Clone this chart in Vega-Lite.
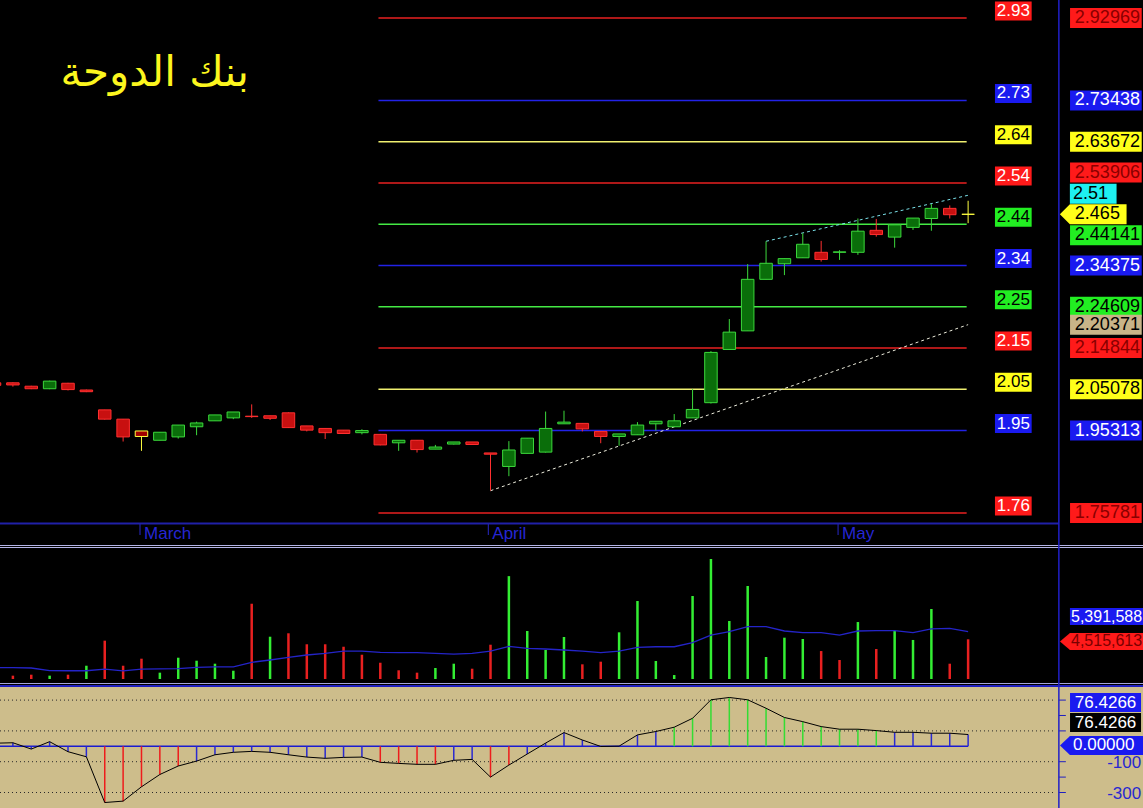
{
"$schema": "https://vega.github.io/schema/vega-lite/v6.json",
"background": "#000000",
"padding": 0,
"spacing": 0,
"bounds": "flush",
"config": {"view": {"stroke": null}, "concat": {"spacing": 0}, "font": "Liberation Sans", "scale": {"continuousPadding": 0}},
"datasets": {
"candles": [
{"i":-1,"o":2.066,"h":2.067,"l":2.059,"c":2.060,"d":"down"},
{"i":0,"o":2.066,"h":2.067,"l":2.057,"c":2.061,"d":"down"},
{"i":1,"o":2.058,"h":2.059,"l":2.051,"c":2.052,"d":"down"},
{"i":2,"o":2.052,"h":2.071,"l":2.051,"c":2.070,"d":"up"},
{"i":3,"o":2.065,"h":2.066,"l":2.048,"c":2.050,"d":"down"},
{"i":4,"o":2.049,"h":2.050,"l":2.044,"c":2.045,"d":"down"},
{"i":5,"o":2.002,"h":2.002,"l":1.979,"c":1.980,"d":"down"},
{"i":6,"o":1.980,"h":1.980,"l":1.927,"c":1.938,"d":"down"},
{"i":7,"o":1.952,"h":1.952,"l":1.905,"c":1.939,"d":"hl"},
{"i":8,"o":1.930,"h":1.949,"l":1.930,"c":1.949,"d":"up"},
{"i":9,"o":1.938,"h":1.966,"l":1.934,"c":1.966,"d":"up"},
{"i":10,"o":1.962,"h":1.974,"l":1.942,"c":1.971,"d":"up"},
{"i":11,"o":1.976,"h":1.990,"l":1.976,"c":1.990,"d":"up"},
{"i":12,"o":1.983,"h":1.997,"l":1.980,"c":1.997,"d":"up"},
{"i":13,"o":1.987,"h":2.015,"l":1.983,"c":1.986,"d":"down"},
{"i":14,"o":1.988,"h":1.988,"l":1.978,"c":1.982,"d":"down"},
{"i":15,"o":1.995,"h":1.996,"l":1.959,"c":1.960,"d":"down"},
{"i":16,"o":1.964,"h":1.964,"l":1.951,"c":1.954,"d":"down"},
{"i":17,"o":1.958,"h":1.958,"l":1.933,"c":1.948,"d":"down"},
{"i":18,"o":1.954,"h":1.954,"l":1.945,"c":1.946,"d":"down"},
{"i":19,"o":1.948,"h":1.956,"l":1.944,"c":1.953,"d":"up"},
{"i":20,"o":1.944,"h":1.945,"l":1.918,"c":1.919,"d":"down"},
{"i":21,"o":1.924,"h":1.930,"l":1.905,"c":1.930,"d":"up"},
{"i":22,"o":1.930,"h":1.930,"l":1.901,"c":1.908,"d":"down"},
{"i":23,"o":1.909,"h":1.919,"l":1.909,"c":1.914,"d":"up"},
{"i":24,"o":1.921,"h":1.926,"l":1.920,"c":1.926,"d":"up"},
{"i":25,"o":1.926,"h":1.926,"l":1.919,"c":1.920,"d":"down"},
{"i":26,"o":1.900,"h":1.900,"l":1.811,"c":1.897,"d":"down"},
{"i":27,"o":1.868,"h":1.928,"l":1.845,"c":1.907,"d":"up"},
{"i":28,"o":1.899,"h":1.935,"l":1.899,"c":1.935,"d":"up"},
{"i":29,"o":1.902,"h":1.998,"l":1.901,"c":1.958,"d":"up"},
{"i":30,"o":1.969,"h":2.000,"l":1.969,"c":1.973,"d":"up"},
{"i":31,"o":1.970,"h":1.970,"l":1.951,"c":1.957,"d":"down"},
{"i":32,"o":1.951,"h":1.951,"l":1.923,"c":1.939,"d":"down"},
{"i":33,"o":1.939,"h":1.945,"l":1.917,"c":1.945,"d":"up"},
{"i":34,"o":1.943,"h":1.973,"l":1.943,"c":1.966,"d":"up"},
{"i":35,"o":1.969,"h":1.975,"l":1.953,"c":1.975,"d":"up"},
{"i":36,"o":1.962,"h":1.992,"l":1.962,"c":1.976,"d":"up"},
{"i":37,"o":1.983,"h":2.051,"l":1.983,"c":2.003,"d":"up"},
{"i":38,"o":2.019,"h":2.141,"l":2.017,"c":2.138,"d":"up"},
{"i":39,"o":2.145,"h":2.217,"l":2.145,"c":2.186,"d":"up"},
{"i":40,"o":2.189,"h":2.347,"l":2.189,"c":2.311,"d":"up"},
{"i":41,"o":2.311,"h":2.401,"l":2.311,"c":2.349,"d":"up"},
{"i":42,"o":2.348,"h":2.360,"l":2.321,"c":2.360,"d":"up"},
{"i":43,"o":2.362,"h":2.420,"l":2.362,"c":2.394,"d":"up"},
{"i":44,"o":2.375,"h":2.402,"l":2.353,"c":2.358,"d":"down"},
{"i":45,"o":2.375,"h":2.380,"l":2.357,"c":2.376,"d":"up"},
{"i":46,"o":2.375,"h":2.455,"l":2.369,"c":2.425,"d":"up"},
{"i":47,"o":2.427,"h":2.454,"l":2.412,"c":2.417,"d":"down"},
{"i":48,"o":2.411,"h":2.440,"l":2.386,"c":2.440,"d":"up"},
{"i":49,"o":2.434,"h":2.456,"l":2.428,"c":2.456,"d":"up"},
{"i":50,"o":2.455,"h":2.489,"l":2.426,"c":2.479,"d":"up"},
{"i":51,"o":2.479,"h":2.486,"l":2.455,"c":2.464,"d":"down"},
{"i":52,"o":2.465,"h":2.497,"l":2.444,"c":2.465,"d":"doji"}
],
"fib": [
{"v":2.92969,"t":"2.93"},{"v":2.73438,"t":"2.73"},{"v":2.63672,"t":"2.64"},{"v":2.53906,"t":"2.54"},
{"v":2.44141,"t":"2.44"},{"v":2.34375,"t":"2.34"},{"v":2.24609,"t":"2.25"},{"v":2.14844,"t":"2.15"},
{"v":2.05078,"t":"2.05"},{"v":1.95313,"t":"1.95"},{"v":1.75781,"t":"1.76"}
],
"trend": [
{"id":"a","i":26,"v":1.8106},{"id":"a","i":52,"v":2.20371},
{"id":"b","i":41,"v":2.4011},{"id":"b","i":52,"v":2.51}
],
"months": [{"i":6.92,"m":"March"},{"i":25.88,"m":"April"},{"i":44.92,"m":"May"}],
"rlab": [
{"t":"2.92969","v":2.92969},{"t":"2.73438","v":2.73438},{"t":"2.63672","v":2.63672},{"t":"2.53906","v":2.53906},
{"t":"2.51","v":2.51},{"t":"2.465","v":2.465},{"t":"2.44141","v":2.44141},{"t":"2.34375","v":2.34375},
{"t":"2.24609","v":2.24609},{"t":"2.20371","v":2.20371},{"t":"2.14844","v":2.14844},{"t":"2.05078","v":2.05078},
{"t":"1.95313","v":1.95313},{"t":"1.75781","v":1.75781}
],
"vol": [
{"i":-1,"ma":1300000},
{"i":0,"v":380000,"d":"down","ma":1290000},
{"i":1,"v":490000,"d":"down","ma":1250000},
{"i":2,"v":380000,"d":"up","ma":960000},
{"i":3,"v":490000,"d":"down","ma":940000},
{"i":4,"v":1510000,"d":"up","ma":940000},
{"i":5,"v":4360000,"d":"down","ma":1120000},
{"i":6,"v":1510000,"d":"down","ma":920000},
{"i":7,"v":2310000,"d":"down","ma":1120000},
{"i":8,"v":720000,"d":"up","ma":1150000},
{"i":9,"v":2420000,"d":"up","ma":1170000},
{"i":10,"v":2080000,"d":"up","ma":1330000},
{"i":11,"v":1740000,"d":"up","ma":1370000},
{"i":12,"v":940000,"d":"up","ma":1370000},
{"i":13,"v":8560000,"d":"down","ma":1900000},
{"i":14,"v":4810000,"d":"up","ma":2160000},
{"i":15,"v":5200000,"d":"down","ma":2450000},
{"i":16,"v":3950000,"d":"down","ma":2730000},
{"i":17,"v":3950000,"d":"down","ma":2920000},
{"i":18,"v":3670000,"d":"down","ma":3180000},
{"i":19,"v":2760000,"d":"down","ma":3180000},
{"i":20,"v":1850000,"d":"down","ma":3020000},
{"i":21,"v":990000,"d":"down","ma":3000000},
{"i":22,"v":720000,"d":"down","ma":3000000},
{"i":23,"v":1250000,"d":"up","ma":2920000},
{"i":24,"v":1740000,"d":"up","ma":2840000},
{"i":25,"v":1170000,"d":"down","ma":2920000},
{"i":26,"v":3900000,"d":"down","ma":3180000},
{"i":27,"v":11700000,"d":"up","ma":3720000},
{"i":28,"v":5460000,"d":"up","ma":3490000},
{"i":29,"v":3300000,"d":"up","ma":3410000},
{"i":30,"v":4780000,"d":"up","ma":3300000},
{"i":31,"v":1670000,"d":"down","ma":3180000},
{"i":32,"v":1970000,"d":"down","ma":3000000},
{"i":33,"v":5310000,"d":"up","ma":3180000},
{"i":34,"v":8870000,"d":"up","ma":3600000},
{"i":35,"v":2050000,"d":"up","ma":3670000},
{"i":36,"v":450000,"d":"up","ma":3670000},
{"i":37,"v":9440000,"d":"up","ma":4130000},
{"i":38,"v":13650000,"d":"up","ma":5000000},
{"i":39,"v":6600000,"d":"up","ma":5380000},
{"i":40,"v":10580000,"d":"up","ma":5950000},
{"i":41,"v":2500000,"d":"up","ma":5950000},
{"i":42,"v":4700000,"d":"up","ma":5460000},
{"i":43,"v":4550000,"d":"up","ma":5270000},
{"i":44,"v":3180000,"d":"down","ma":5270000},
{"i":45,"v":2160000,"d":"down","ma":5000000},
{"i":46,"v":6480000,"d":"up","ma":5460000},
{"i":47,"v":3410000,"d":"down","ma":5500000},
{"i":48,"v":5460000,"d":"up","ma":5500000},
{"i":49,"v":4440000,"d":"up","ma":5270000},
{"i":50,"v":7960000,"d":"up","ma":5690000},
{"i":51,"v":1740000,"d":"down","ma":5760000},
{"i":52,"v":4515613,"d":"down","ma":5391588}
],
"vlab": [{"t":"5,391,588","v":5391588},{"t":"4,515,613","v":4515613}],
"osc": [
{"i":-1,"v":20},{"i":0,"v":23},{"i":1,"v":-18},{"i":2,"v":30},{"i":3,"v":-35},{"i":4,"v":-68},
{"i":5,"v":-365},{"i":6,"v":-356},{"i":7,"v":-263},{"i":8,"v":-183},{"i":9,"v":-128},{"i":10,"v":-96},
{"i":11,"v":-55},{"i":12,"v":-39},{"i":13,"v":-33},{"i":14,"v":-39},{"i":15,"v":-55},{"i":16,"v":-70},
{"i":17,"v":-78},{"i":18,"v":-72},{"i":19,"v":-70},{"i":20,"v":-104},{"i":21,"v":-111},{"i":22,"v":-117},
{"i":23,"v":-117},{"i":24,"v":-91},{"i":25,"v":-85},{"i":26,"v":-200},{"i":27,"v":-122},{"i":28,"v":-50},
{"i":29,"v":21},{"i":30,"v":89},{"i":31,"v":41},{"i":32,"v":-1},{"i":33,"v":1},{"i":34,"v":74},
{"i":35,"v":96},{"i":36,"v":124},{"i":37,"v":182},{"i":38,"v":302},{"i":39,"v":317},{"i":40,"v":302},
{"i":41,"v":247},{"i":42,"v":187},{"i":43,"v":160},{"i":44,"v":128},{"i":45,"v":111},{"i":46,"v":111},
{"i":47,"v":102},{"i":48,"v":91},{"i":49,"v":91},{"i":50,"v":85},{"i":51,"v":85},{"i":52,"v":76.4266}
],
"olab": [{"t":"76.4266","v":76.4266},{"t":"0.00000","v":0}],
"ogrid": [{"g":300,"t":"300"},{"g":100,"t":"100"},{"g":-100,"t":"-100"},{"g":-300,"t":"-300"}],
"oticks": [{"g":300},{"g":200},{"g":100},{"g":-100},{"g":-200},{"g":-300}]
},
"vconcat": [
{
"width": 1143, "height": 545,
"resolve": {"scale": {"color": "independent", "fill": "independent", "stroke": "independent"}},
"layer": [
{"data": {"name": "fib"}, "mark": {"type": "rule", "strokeWidth": 1.5},
 "encoding": {
  "x": {"datum": 19.9, "type": "quantitative", "scale": {"domain": [-0.702, 61.52], "nice": false, "zero": false}, "axis": null},
  "x2": {"datum": 51.92},
  "y": {"field": "v", "type": "quantitative", "scale": {"domain": [1.68207, 2.972303], "nice": false, "zero": false}, "axis": null},
  "color": {"field": "t", "type": "nominal", "legend": null, "scale": {"domain": ["2.93","2.73","2.64","2.54","2.44","2.34","2.25","2.15","2.05","1.95","1.76"], "range": ["#e82020","#2222e6","#f0f070","#e82020","#44ea44","#2222e6","#44ea44","#e82020","#f0f070","#2222e6","#e82020"]}}}},
{"data": {"name": "trend"}, "mark": {"type": "line", "strokeWidth": 1, "strokeDash": [3, 3]},
 "encoding": {
  "x": {"field": "i", "type": "quantitative", "scale": {"domain": [-0.702, 61.52], "nice": false, "zero": false}, "axis": null},
  "y": {"field": "v", "type": "quantitative", "scale": {"domain": [1.68207, 2.972303], "nice": false, "zero": false}, "axis": null},
  "detail": {"field": "id"},
  "color": {"field": "id", "type": "nominal", "legend": null, "scale": {"domain": ["a","b"], "range": ["#ececdc","#7ae0e8"]}}}},
{"data": {"name": "candles"}, "mark": {"type": "rule", "strokeWidth": 1, "clip": true},
 "encoding": {
  "x": {"field": "i", "type": "quantitative", "scale": {"domain": [-0.702, 61.52], "nice": false, "zero": false}, "axis": null},
  "y": {"field": "l", "type": "quantitative", "scale": {"domain": [1.68207, 2.972303], "nice": false, "zero": false}, "axis": null},
  "y2": {"field": "h"},
  "color": {"field": "d", "type": "nominal", "legend": null, "scale": {"domain": ["up","down","hl","doji"], "range": ["#3cd83c","#ff3030","#ffff40","#ffff40"]}}}},
{"data": {"name": "candles"}, "mark": {"type": "bar", "size": 12.5, "strokeWidth": 1, "clip": true},
 "encoding": {
  "x": {"field": "i", "type": "quantitative", "scale": {"domain": [-0.702, 61.52], "nice": false, "zero": false}, "axis": null},
  "y": {"field": "o", "type": "quantitative", "scale": {"domain": [1.68207, 2.972303], "nice": false, "zero": false}, "axis": null},
  "y2": {"field": "c"},
  "fill": {"field": "d", "type": "nominal", "legend": null, "scale": {"domain": ["up","down","hl","doji"], "range": ["#0a6e0a","#c81010","#a00000","#ffff40"]}},
  "stroke": {"field": "d", "type": "nominal", "legend": null, "scale": {"domain": ["up","down","hl","doji"], "range": ["#3cd83c","#ff3030","#ffff40","#ffff40"]}}}},
{"data": {"name": "months"}, "mark": {"type": "rule", "color": "#2828c8", "strokeWidth": 1},
 "encoding": {
  "x": {"field": "i", "type": "quantitative", "scale": {"domain": [-0.702, 61.52], "nice": false, "zero": false}, "axis": null},
  "y": {"datum": 1.73178, "type": "quantitative", "scale": {"domain": [1.68207, 2.972303], "nice": false, "zero": false}, "axis": null},
  "y2": {"datum": 1.70574}}},
{"data": {"name": "months"}, "mark": {"type": "text", "font": "Liberation Sans", "fontSize": 17, "align": "left", "baseline": "middle", "dx": 4, "color": "#2626d4"},
 "encoding": {
  "x": {"field": "i", "type": "quantitative", "scale": {"domain": [-0.702, 61.52], "nice": false, "zero": false}, "axis": null},
  "y": {"datum": 1.7081, "type": "quantitative", "scale": {"domain": [1.68207, 2.972303], "nice": false, "zero": false}, "axis": null},
  "text": {"field": "m"}}},
{"data": {"name": "fib"}, "mark": {"type": "point", "shape": "M-1,-0.899H1V0.136H-1Z", "size": 1347, "filled": true, "opacity": 1, "strokeWidth": 0},
 "encoding": {
  "x": {"datum": 54.46, "type": "quantitative", "scale": {"domain": [-0.702, 61.52], "nice": false, "zero": false}, "axis": null},
  "y": {"field": "v", "type": "quantitative", "scale": {"domain": [1.68207, 2.972303], "nice": false, "zero": false}, "axis": null},
  "color": {"field": "t", "type": "nominal", "legend": null, "scale": {"domain": ["2.93","2.73","2.64","2.54","2.44","2.34","2.25","2.15","2.05","1.95","1.76"], "range": ["#ff1a1a","#1a1af0","#ffff1a","#ff1a1a","#22ee22","#1a1af0","#22ee22","#ff1a1a","#ffff1a","#1a1af0","#ff1a1a"]}}}},
{"data": {"name": "fib"}, "mark": {"type": "text", "font": "Liberation Sans", "fontSize": 17, "align": "center", "baseline": "middle", "dy": -7},
 "encoding": {
  "x": {"datum": 54.46, "type": "quantitative", "scale": {"domain": [-0.702, 61.52], "nice": false, "zero": false}, "axis": null},
  "y": {"field": "v", "type": "quantitative", "scale": {"domain": [1.68207, 2.972303], "nice": false, "zero": false}, "axis": null},
  "text": {"field": "t"},
  "color": {"field": "t", "type": "nominal", "legend": null, "scale": {"domain": ["2.93","2.73","2.64","2.54","2.44","2.34","2.25","2.15","2.05","1.95","1.76"], "range": ["#ffffff","#ffffff","#000000","#ffffff","#000000","#ffffff","#000000","#ffffff","#000000","#ffffff","#ffffff"]}}}},
{"data": {"name": "rlab"}, "transform": [{"filter": "indexof(['2.53906','2.51','2.465','2.44141'], datum.t) < 0"}],
 "mark": {"type": "point", "shape": "M-1,-0.279H1V0.279H-1Z", "size": 5140, "filled": true, "opacity": 1, "strokeWidth": 0, "clip": true},
 "encoding": {
  "x": {"datum": 59.5, "type": "quantitative", "scale": {"domain": [-0.702, 61.52], "nice": false, "zero": false}, "axis": null},
  "y": {"field": "v", "type": "quantitative", "scale": {"domain": [1.68207, 2.972303], "nice": false, "zero": false}, "axis": null},
  "color": {"field": "t", "type": "nominal", "legend": null, "scale": {"domain": ["2.92969","2.73438","2.63672","2.34375","2.24609","2.20371","2.14844","2.05078","1.95313","1.75781"], "range": ["#ff1a1a","#1a1af0","#ffff1a","#1a1af0","#22ee22","#c8b488","#ff1a1a","#ffff1a","#1a1af0","#ff1a1a"]}}}},
{"data": {"name": "rlab"}, "transform": [{"filter": "indexof(['2.53906','2.51','2.465','2.44141'], datum.t) < 0"}],
 "mark": {"type": "text", "font": "Liberation Sans", "fontSize": 18, "align": "left", "baseline": "middle", "clip": true},
 "encoding": {
  "x": {"datum": 57.81, "type": "quantitative", "scale": {"domain": [-0.702, 61.52], "nice": false, "zero": false}, "axis": null},
  "y": {"field": "v", "type": "quantitative", "scale": {"domain": [1.68207, 2.972303], "nice": false, "zero": false}, "axis": null},
  "text": {"field": "t"},
  "color": {"field": "t", "type": "nominal", "legend": null, "scale": {"domain": ["2.92969","2.73438","2.63672","2.34375","2.24609","2.20371","2.14844","2.05078","1.95313","1.75781"], "range": ["#8a0000","#ffffff","#000000","#ffffff","#000000","#000000","#8a0000","#000000","#ffffff","#8a0000"]}}}},
{"data": {"name": "rlab"}, "transform": [{"filter": "datum.t == '2.53906'"}],
 "mark": {"type": "point", "shape": "M-1,-0.572H1V-0.014H-1Z", "size": 5140, "filled": true, "opacity": 1, "strokeWidth": 0, "color": "#ff1a1a", "clip": true},
 "encoding": {
  "x": {"datum": 59.5, "type": "quantitative", "scale": {"domain": [-0.702, 61.52], "nice": false, "zero": false}, "axis": null},
  "y": {"field": "v", "type": "quantitative", "scale": {"domain": [1.68207, 2.972303], "nice": false, "zero": false}, "axis": null}}},
{"data": {"name": "rlab"}, "transform": [{"filter": "datum.t == '2.53906'"}],
 "mark": {"type": "text", "font": "Liberation Sans", "fontSize": 18, "align": "left", "baseline": "middle", "dy": -10.5, "color": "#8a0000", "clip": true},
 "encoding": {
  "x": {"datum": 57.81, "type": "quantitative", "scale": {"domain": [-0.702, 61.52], "nice": false, "zero": false}, "axis": null},
  "y": {"field": "v", "type": "quantitative", "scale": {"domain": [1.68207, 2.972303], "nice": false, "zero": false}, "axis": null},
  "text": {"field": "t"}}},
{"data": {"name": "rlab"}, "transform": [{"filter": "datum.t == '2.44141'"}],
 "mark": {"type": "point", "shape": "M-1,0.028H1V0.586H-1Z", "size": 5140, "filled": true, "opacity": 1, "strokeWidth": 0, "color": "#22ee22", "clip": true},
 "encoding": {
  "x": {"datum": 59.5, "type": "quantitative", "scale": {"domain": [-0.702, 61.52], "nice": false, "zero": false}, "axis": null},
  "y": {"field": "v", "type": "quantitative", "scale": {"domain": [1.68207, 2.972303], "nice": false, "zero": false}, "axis": null}}},
{"data": {"name": "rlab"}, "transform": [{"filter": "datum.t == '2.44141'"}],
 "mark": {"type": "text", "font": "Liberation Sans", "fontSize": 18, "align": "left", "baseline": "middle", "dy": 11, "color": "#000000", "clip": true},
 "encoding": {
  "x": {"datum": 57.81, "type": "quantitative", "scale": {"domain": [-0.702, 61.52], "nice": false, "zero": false}, "axis": null},
  "y": {"field": "v", "type": "quantitative", "scale": {"domain": [1.68207, 2.972303], "nice": false, "zero": false}, "axis": null},
  "text": {"field": "t"}}},
{"data": {"name": "rlab"}, "transform": [{"filter": "datum.t == '2.51'"}],
 "mark": {"type": "point", "shape": "M-1,-0.497H1V0.36H-1Z", "size": 2180, "filled": true, "opacity": 1, "strokeWidth": 0, "color": "#1ef0f0"},
 "encoding": {
  "x": {"datum": 58.81, "type": "quantitative", "scale": {"domain": [-0.702, 61.52], "nice": false, "zero": false}, "axis": null},
  "y": {"field": "v", "type": "quantitative", "scale": {"domain": [1.68207, 2.972303], "nice": false, "zero": false}, "axis": null}}},
{"data": {"name": "rlab"}, "transform": [{"filter": "datum.t == '2.51'"}],
 "mark": {"type": "text", "font": "Liberation Sans", "fontSize": 18, "align": "left", "baseline": "middle", "dy": -1.6, "color": "#000000"},
 "encoding": {
  "x": {"datum": 57.71, "type": "quantitative", "scale": {"domain": [-0.702, 61.52], "nice": false, "zero": false}, "axis": null},
  "y": {"field": "v", "type": "quantitative", "scale": {"domain": [1.68207, 2.972303], "nice": false, "zero": false}, "axis": null},
  "text": {"field": "t"}}},
{"data": {"name": "rlab"}, "transform": [{"filter": "datum.t == '2.465'"}],
 "mark": {"type": "point", "shape": "M-1,0L-0.7,-0.3H1V0.3H-0.7Z", "size": 4448, "filled": true, "opacity": 1, "strokeWidth": 0, "color": "#ffff1a"},
 "encoding": {
  "x": {"datum": 58.81, "type": "quantitative", "scale": {"domain": [-0.702, 61.52], "nice": false, "zero": false}, "axis": null},
  "y": {"field": "v", "type": "quantitative", "scale": {"domain": [1.68207, 2.972303], "nice": false, "zero": false}, "axis": null}}},
{"data": {"name": "rlab"}, "transform": [{"filter": "datum.t == '2.465'"}],
 "mark": {"type": "text", "font": "Liberation Sans", "fontSize": 18, "align": "left", "baseline": "middle", "color": "#000000"},
 "encoding": {
  "x": {"datum": 57.81, "type": "quantitative", "scale": {"domain": [-0.702, 61.52], "nice": false, "zero": false}, "axis": null},
  "y": {"field": "v", "type": "quantitative", "scale": {"domain": [1.68207, 2.972303], "nice": false, "zero": false}, "axis": null},
  "text": {"field": "t"}}},
{"data": {"values": [{"t": "بنك الدوحة"}]},
 "mark": {"type": "text", "font": "DejaVu Sans", "fontSize": 42, "align": "center", "baseline": "middle", "color": "#fcf61e"},
 "encoding": {
  "x": {"datum": 7.72, "type": "quantitative", "scale": {"domain": [-0.702, 61.52], "nice": false, "zero": false}, "axis": null},
  "y": {"datum": 2.8, "type": "quantitative", "scale": {"domain": [1.68207, 2.972303], "nice": false, "zero": false}, "axis": null},
  "text": {"field": "t"}}},
{"data": {"values": [{}]}, "mark": {"type": "rule", "color": "#2020a8", "strokeWidth": 2, "clip": true},
 "encoding": {
  "x": {"datum": -0.702, "type": "quantitative", "scale": {"domain": [-0.702, 61.52], "nice": false, "zero": false}, "axis": null},
  "x2": {"datum": 56.94},
  "y": {"datum": 1.73296, "type": "quantitative", "scale": {"domain": [1.68207, 2.972303], "nice": false, "zero": false}, "axis": null}}},
{"data": {"values": [{}]}, "mark": {"type": "rule", "color": "#2020c8", "strokeWidth": 1.5, "clip": true},
 "encoding": {
  "x": {"datum": 56.94, "type": "quantitative", "scale": {"domain": [-0.702, 61.52], "nice": false, "zero": false}, "axis": null}}}
]
},
{
"width": 1143, "height": 140,
"resolve": {"scale": {"color": "independent", "fill": "independent", "stroke": "independent"}},
"layer": [
{"data": {"values": [{}]}, "mark": {"type": "rule", "color": "#b4b4e6", "strokeWidth": 1, "clip": true},
 "encoding": {"y": {"datum": 15184690, "type": "quantitative", "scale": {"domain": [-682458, 15241562], "nice": false, "zero": false}, "axis": null}}},
{"data": {"values": [{}]}, "mark": {"type": "rule", "color": "#b4b4e6", "strokeWidth": 1, "clip": true},
 "encoding": {"y": {"datum": 14957204, "type": "quantitative", "scale": {"domain": [-682458, 15241562], "nice": false, "zero": false}, "axis": null}}},
{"data": {"values": [{}]}, "mark": {"type": "rule", "color": "#a4a4dc", "strokeWidth": 1, "clip": true},
 "encoding": {"y": {"datum": -511844, "type": "quantitative", "scale": {"domain": [-682458, 15241562], "nice": false, "zero": false}, "axis": null}}},
{"data": {"name": "vol"}, "transform": [{"filter": "isValid(datum.v)"}],
 "mark": {"type": "rule", "strokeWidth": 2.5, "clip": true},
 "encoding": {
  "x": {"field": "i", "type": "quantitative", "scale": {"domain": [-0.702, 61.52], "nice": false, "zero": false}, "axis": null},
  "y": {"field": "v", "type": "quantitative", "scale": {"domain": [-682458, 15241562], "nice": false, "zero": false}, "axis": null},
  "y2": {"datum": 0},
  "color": {"field": "d", "type": "nominal", "legend": null, "scale": {"domain": ["up","down"], "range": ["#33ee33","#e82020"]}}}},
{"data": {"name": "vol"}, "mark": {"type": "line", "color": "#2424c8", "strokeWidth": 1.3, "clip": true},
 "encoding": {
  "x": {"field": "i", "type": "quantitative", "scale": {"domain": [-0.702, 61.52], "nice": false, "zero": false}, "axis": null},
  "y": {"field": "ma", "type": "quantitative", "scale": {"domain": [-682458, 15241562], "nice": false, "zero": false}, "axis": null}}},
{"data": {"values": [{}]}, "mark": {"type": "rule", "color": "#2020c8", "strokeWidth": 1.5, "clip": true},
 "encoding": {"x": {"datum": 56.94, "type": "quantitative", "scale": {"domain": [-0.702, 61.52], "nice": false, "zero": false}, "axis": null}}},
{"data": {"name": "vlab"}, "transform": [{"filter": "datum.t == '5,391,588'"}],
 "mark": {"type": "point", "shape": "M-1,-0.5875H1V-0.1625H-1Z", "size": 6400, "filled": true, "opacity": 1, "strokeWidth": 0, "color": "#1a1af0", "clip": true},
 "encoding": {
  "x": {"datum": 59.72, "type": "quantitative", "scale": {"domain": [-0.702, 61.52], "nice": false, "zero": false}, "axis": null},
  "y": {"field": "v", "type": "quantitative", "scale": {"domain": [-682458, 15241562], "nice": false, "zero": false}, "axis": null}}},
{"data": {"name": "vlab"}, "transform": [{"filter": "datum.t == '5,391,588'"}],
 "mark": {"type": "text", "font": "Liberation Sans", "fontSize": 16, "align": "left", "baseline": "middle", "dy": -15, "color": "#ffffff", "clip": true},
 "encoding": {
  "x": {"datum": 57.6, "type": "quantitative", "scale": {"domain": [-0.702, 61.52], "nice": false, "zero": false}, "axis": null},
  "y": {"field": "v", "type": "quantitative", "scale": {"domain": [-682458, 15241562], "nice": false, "zero": false}, "axis": null},
  "text": {"field": "t"}}},
{"data": {"name": "vlab"}, "transform": [{"filter": "datum.t == '4,515,613'"}],
 "mark": {"type": "point", "shape": "M-1,0.05L-0.778,-0.14H1V0.238H-0.778Z", "size": 8100, "filled": true, "opacity": 1, "strokeWidth": 0, "color": "#ff1a1a", "clip": true},
 "encoding": {
  "x": {"datum": 59.45, "type": "quantitative", "scale": {"domain": [-0.702, 61.52], "nice": false, "zero": false}, "axis": null},
  "y": {"field": "v", "type": "quantitative", "scale": {"domain": [-682458, 15241562], "nice": false, "zero": false}, "axis": null}}},
{"data": {"name": "vlab"}, "transform": [{"filter": "datum.t == '4,515,613'"}],
 "mark": {"type": "text", "font": "Liberation Sans", "fontSize": 16, "align": "left", "baseline": "middle", "dy": 2.2, "color": "#7a0000", "clip": true},
 "encoding": {
  "x": {"datum": 57.6, "type": "quantitative", "scale": {"domain": [-0.702, 61.52], "nice": false, "zero": false}, "axis": null},
  "y": {"field": "v", "type": "quantitative", "scale": {"domain": [-682458, 15241562], "nice": false, "zero": false}, "axis": null},
  "text": {"field": "t"}}}
]
},
{
"width": 1143, "height": 123,
"view": {"fill": "#cdbd8b", "stroke": null},
"resolve": {"scale": {"color": "independent", "fill": "independent", "stroke": "independent"}},
"layer": [
{"data": {"values": [{}]}, "mark": {"type": "rule", "color": "#2020c0", "strokeWidth": 2, "clip": true},
 "encoding": {"y": {"datum": 391.5, "type": "quantitative", "scale": {"domain": [-400.6, 398], "nice": false, "zero": false}, "axis": null}}},
{"data": {"name": "ogrid"},
 "mark": {"type": "rule", "color": "#2a2a2a", "strokeWidth": 1, "strokeDash": [1, 3], "clip": true},
 "encoding": {
  "x": {"datum": -0.702, "type": "quantitative", "scale": {"domain": [-0.702, 61.52], "nice": false, "zero": false}, "axis": null},
  "x2": {"datum": 56.7},
  "y": {"field": "g", "type": "quantitative", "scale": {"domain": [-400.6, 398], "nice": false, "zero": false}, "axis": null}}},
{"data": {"name": "oticks"},
 "mark": {"type": "rule", "color": "#2020c0", "strokeWidth": 1},
 "encoding": {
  "x": {"datum": 56.94, "type": "quantitative", "scale": {"domain": [-0.702, 61.52], "nice": false, "zero": false}, "axis": null},
  "x2": {"datum": 57.32},
  "y": {"field": "g", "type": "quantitative", "scale": {"domain": [-400.6, 398], "nice": false, "zero": false}, "axis": null}}},
{"data": {"name": "ogrid"}, "transform": [{"filter": "datum.g < 0"}],
 "mark": {"type": "text", "font": "Liberation Sans", "fontSize": 17, "align": "right", "baseline": "middle", "dy": 1.5, "color": "#2828d0"},
 "encoding": {
  "x": {"datum": 61.42, "type": "quantitative", "scale": {"domain": [-0.702, 61.52], "nice": false, "zero": false}, "axis": null},
  "y": {"field": "g", "type": "quantitative", "scale": {"domain": [-400.6, 398], "nice": false, "zero": false}, "axis": null},
  "text": {"field": "t"}}},
{"data": {"values": [{}]}, "mark": {"type": "rule", "color": "#1a1ad0", "strokeWidth": 1.5, "clip": true},
 "encoding": {
  "x": {"datum": -0.702, "type": "quantitative", "scale": {"domain": [-0.702, 61.52], "nice": false, "zero": false}, "axis": null},
  "x2": {"datum": 52},
  "y": {"datum": 0, "type": "quantitative", "scale": {"domain": [-400.6, 398], "nice": false, "zero": false}, "axis": null}}},
{"data": {"name": "osc"}, "transform": [{"filter": "datum.i >= 0"}],
 "mark": {"type": "rule", "strokeWidth": 1.5},
 "encoding": {
  "x": {"field": "i", "type": "quantitative", "scale": {"domain": [-0.702, 61.52], "nice": false, "zero": false}, "axis": null},
  "y": {"field": "v", "type": "quantitative", "scale": {"domain": [-400.6, 398], "nice": false, "zero": false}, "axis": null},
  "y2": {"datum": 0},
  "color": {"condition": [{"test": "datum.v > 100", "value": "#33dd33"}, {"test": "datum.v < -100", "value": "#ee1c1c"}], "value": "#2a2ad0"}}},
{"data": {"name": "osc"}, "mark": {"type": "line", "color": "#000000", "strokeWidth": 1, "clip": true},
 "encoding": {
  "x": {"field": "i", "type": "quantitative", "scale": {"domain": [-0.702, 61.52], "nice": false, "zero": false}, "axis": null},
  "y": {"field": "v", "type": "quantitative", "scale": {"domain": [-400.6, 398], "nice": false, "zero": false}, "axis": null}}},
{"data": {"values": [{}]}, "mark": {"type": "rule", "color": "#2020c8", "strokeWidth": 1.5, "clip": true},
 "encoding": {"x": {"datum": 56.94, "type": "quantitative", "scale": {"domain": [-0.702, 61.52], "nice": false, "zero": false}, "axis": null}}},
{"data": {"name": "olab"}, "transform": [{"filter": "datum.t == '76.4266'"}],
 "mark": {"type": "point", "shape": "M-1,-1.169H1V-0.634H-1Z", "size": 5041, "filled": true, "opacity": 1, "strokeWidth": 0, "color": "#1a1af0"},
 "encoding": {
  "x": {"datum": 59.48, "type": "quantitative", "scale": {"domain": [-0.702, 61.52], "nice": false, "zero": false}, "axis": null},
  "y": {"field": "v", "type": "quantitative", "scale": {"domain": [-400.6, 398], "nice": false, "zero": false}, "axis": null}}},
{"data": {"name": "olab"}, "transform": [{"filter": "datum.t == '76.4266'"}],
 "mark": {"type": "point", "shape": "M-1,-0.606H1V-0.07H-1Z", "size": 5041, "filled": true, "opacity": 1, "strokeWidth": 0, "color": "#000000"},
 "encoding": {
  "x": {"datum": 59.48, "type": "quantitative", "scale": {"domain": [-0.702, 61.52], "nice": false, "zero": false}, "axis": null},
  "y": {"field": "v", "type": "quantitative", "scale": {"domain": [-400.6, 398], "nice": false, "zero": false}, "axis": null}}},
{"data": {"name": "olab"}, "transform": [{"filter": "datum.t == '0.00000'"}],
 "mark": {"type": "point", "shape": "M-1,-0.02L-0.778,-0.231H1V0.191H-0.778Z", "size": 8100, "filled": true, "opacity": 1, "strokeWidth": 0, "color": "#1a1af0", "clip": true},
 "encoding": {
  "x": {"datum": 59.45, "type": "quantitative", "scale": {"domain": [-0.702, 61.52], "nice": false, "zero": false}, "axis": null},
  "y": {"field": "v", "type": "quantitative", "scale": {"domain": [-400.6, 398], "nice": false, "zero": false}, "axis": null}}},
{"data": {"name": "olab"}, "transform": [{"filter": "datum.t == '76.4266'"}],
 "mark": {"type": "text", "font": "Liberation Sans", "fontSize": 17, "align": "left", "baseline": "middle", "dy": -32, "color": "#ffffff"},
 "encoding": {
  "x": {"datum": 57.81, "type": "quantitative", "scale": {"domain": [-0.702, 61.52], "nice": false, "zero": false}, "axis": null},
  "y": {"field": "v", "type": "quantitative", "scale": {"domain": [-400.6, 398], "nice": false, "zero": false}, "axis": null},
  "text": {"field": "t"}}},
{"data": {"name": "olab"}, "transform": [{"filter": "datum.t == '76.4266'"}],
 "mark": {"type": "text", "font": "Liberation Sans", "fontSize": 17, "align": "left", "baseline": "middle", "dy": -12, "color": "#ffffff"},
 "encoding": {
  "x": {"datum": 57.81, "type": "quantitative", "scale": {"domain": [-0.702, 61.52], "nice": false, "zero": false}, "axis": null},
  "y": {"field": "v", "type": "quantitative", "scale": {"domain": [-400.6, 398], "nice": false, "zero": false}, "axis": null},
  "text": {"field": "t"}}},
{"data": {"name": "olab"}, "transform": [{"filter": "datum.t == '0.00000'"}],
 "mark": {"type": "text", "font": "Liberation Sans", "fontSize": 17, "align": "left", "baseline": "middle", "dy": -1, "color": "#ffffff"},
 "encoding": {
  "x": {"datum": 57.71, "type": "quantitative", "scale": {"domain": [-0.702, 61.52], "nice": false, "zero": false}, "axis": null},
  "y": {"field": "v", "type": "quantitative", "scale": {"domain": [-400.6, 398], "nice": false, "zero": false}, "axis": null},
  "text": {"field": "t"}}}
]
}
]
}
